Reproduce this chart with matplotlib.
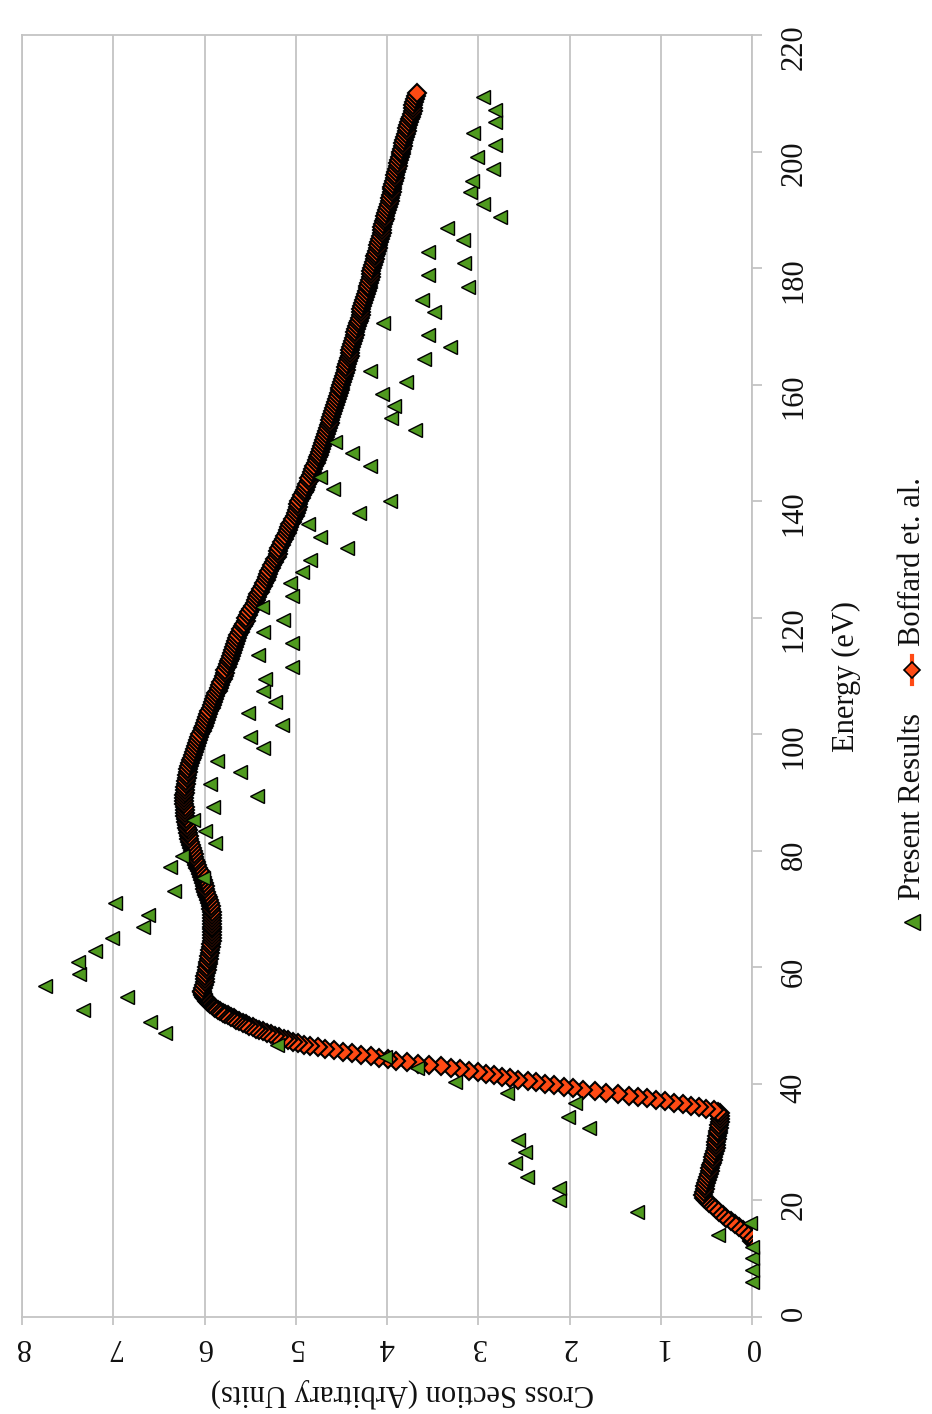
import numpy as np
import matplotlib
matplotlib.use("Agg")
import matplotlib.pyplot as plt
from matplotlib.lines import Line2D

# ---------------- data ----------------
# Present results: energy (eV) and cross section (arbitrary units)
present_energy = [
    6.0, 8.1, 10.1, 12.0, 14.1, 16.1, 18.0, 20.1, 22.1, 24.0,
    26.4, 28.3, 30.4, 32.4, 34.3, 36.7, 38.4, 40.3, 42.7, 44.6,
    46.7, 48.7, 50.6, 52.7, 54.9, 56.8, 58.9, 60.9, 62.8, 65.0,
    66.9, 69.0, 71.0, 73.1, 75.3, 77.2, 79.1, 81.3, 83.4, 85.3,
    87.5, 89.4, 91.5, 93.5, 95.4, 97.6, 99.5, 101.6, 103.6, 105.5,
    107.4, 109.5, 111.6, 113.6, 115.7, 117.6, 119.6, 121.8, 123.7, 126.0,
    127.9, 129.9, 132.0, 133.9, 136.1, 138.0, 140.0, 142.1, 144.2, 146.0,
    148.3, 150.2, 152.2, 154.3, 156.3, 158.4, 160.5, 162.4, 164.4, 166.5,
    168.5, 170.6, 172.5, 174.6, 176.8, 178.8, 180.9, 182.8, 184.8, 186.9,
    188.8, 191.0, 193.1, 194.9, 197.0, 199.1, 201.1, 203.2, 205.1, 207.2,
    209.4,
]
present_cs = [
    0.00, 0.00, 0.00, 0.00, 0.37, 0.02, 1.26, 2.12, 2.11, 2.47,
    2.60, 2.49, 2.56, 1.79, 2.02, 1.94, 2.68, 3.26, 3.67, 4.02,
    5.21, 6.43, 6.60, 7.33, 6.85, 7.75, 7.37, 7.39, 7.20, 7.01,
    6.67, 6.62, 6.98, 6.33, 6.02, 6.38, 6.25, 5.88, 6.00, 6.13,
    5.91, 5.42, 5.94, 5.61, 5.86, 5.36, 5.50, 5.15, 5.52, 5.23,
    5.36, 5.34, 5.04, 5.41, 5.04, 5.36, 5.14, 5.37, 5.04, 5.06,
    4.93, 4.84, 4.44, 4.73, 4.87, 4.31, 3.97, 4.59, 4.73, 4.19,
    4.38, 4.57, 3.69, 3.96, 3.92, 4.05, 3.79, 4.19, 3.59, 3.31,
    3.55, 4.04, 3.48, 3.62, 3.11, 3.55, 3.16, 3.55, 3.17, 3.34,
    2.76, 2.95, 3.09, 3.07, 2.84, 3.01, 2.82, 3.06, 2.82, 2.82,
    2.95,
]

# Boffard et al.: sampled on three energy grids
boffard_energy = np.concatenate([
    np.arange(13.0, 35.01, 0.5),     # threshold region
    np.arange(35.25, 56.01, 0.25),   # steep rise
    np.arange(56.5, 210.01, 0.5),    # plateau and fall-off
])
boffard_cs = [
    # 13.0 .. 35.0 eV
    0.00, 0.01, 0.03, 0.06, 0.10, 0.14, 0.19, 0.23, 0.28, 0.32,
    0.36, 0.40, 0.43, 0.47, 0.50, 0.53, 0.54, 0.53, 0.52, 0.51,
    0.50, 0.49, 0.48, 0.47, 0.46, 0.455, 0.45, 0.44, 0.43, 0.425,
    0.42, 0.41, 0.40, 0.395, 0.39, 0.385, 0.38, 0.375, 0.37, 0.365,
    0.36, 0.355, 0.35, 0.35, 0.35,
    # 35.25 .. 56.0 eV
    0.37, 0.42, 0.50, 0.58, 0.67, 0.76, 0.86, 0.95, 1.05, 1.15,
    1.25, 1.35, 1.47, 1.60, 1.72, 1.85, 1.96, 2.06, 2.17, 2.27,
    2.37, 2.46, 2.56, 2.65, 2.74, 2.83, 2.91, 3.00, 3.10, 3.20,
    3.30, 3.41, 3.54, 3.66, 3.78, 3.90, 3.99, 4.09, 4.18, 4.28,
    4.38, 4.48, 4.58, 4.68, 4.76, 4.84, 4.91, 4.97, 5.03, 5.08,
    5.13, 5.18, 5.23, 5.27, 5.32, 5.36, 5.40, 5.44, 5.47, 5.51,
    5.55, 5.58, 5.62, 5.65, 5.68, 5.71, 5.74, 5.77, 5.80, 5.83,
    5.85, 5.88, 5.90, 5.92, 5.94, 5.96, 5.97, 5.98, 6.00, 6.01,
    6.02, 6.02, 6.03, 6.03,
    # 56.5 .. 210.0 eV
    6.02, 6.01, 6.00, 6.00, 5.99, 5.98, 5.97, 5.97, 5.96, 5.96,
    5.95, 5.95, 5.94, 5.94, 5.93, 5.93, 5.92, 5.92, 5.92, 5.92,
    5.92, 5.92, 5.92, 5.92, 5.92, 5.92, 5.92, 5.93, 5.93, 5.94,
    5.95, 5.96, 5.97, 5.98, 5.99, 6.00, 6.01, 6.02, 6.03, 6.04,
    6.05, 6.07, 6.08, 6.09, 6.10, 6.11, 6.12, 6.13, 6.14, 6.15,
    6.16, 6.17, 6.17, 6.18, 6.18, 6.19, 6.19, 6.20, 6.20, 6.21,
    6.21, 6.21, 6.21, 6.22, 6.22, 6.22, 6.22, 6.21, 6.21, 6.21,
    6.20, 6.20, 6.19, 6.19, 6.18, 6.18, 6.17, 6.16, 6.15, 6.14,
    6.13, 6.12, 6.10, 6.09, 6.08, 6.07, 6.06, 6.05, 6.03, 6.02,
    6.01, 6.00, 5.98, 5.97, 5.96, 5.95, 5.93, 5.92, 5.91, 5.90,
    5.88, 5.87, 5.85, 5.84, 5.83, 5.82, 5.80, 5.79, 5.78, 5.77,
    5.75, 5.74, 5.73, 5.72, 5.71, 5.70, 5.69, 5.68, 5.67, 5.66,
    5.64, 5.63, 5.61, 5.60, 5.58, 5.57, 5.55, 5.54, 5.52, 5.51,
    5.49, 5.47, 5.45, 5.44, 5.42, 5.41, 5.39, 5.38, 5.36, 5.35,
    5.33, 5.32, 5.30, 5.29, 5.27, 5.26, 5.24, 5.23, 5.21, 5.20,
    5.19, 5.18, 5.16, 5.15, 5.13, 5.12, 5.10, 5.09, 5.07, 5.06,
    5.04, 5.03, 5.01, 5.00, 4.99, 4.98, 4.97, 4.96, 4.94, 4.93,
    4.91, 4.90, 4.89, 4.88, 4.86, 4.85, 4.83, 4.82, 4.81, 4.80,
    4.78, 4.77, 4.76, 4.75, 4.73, 4.72, 4.71, 4.70, 4.69, 4.68,
    4.67, 4.66, 4.65, 4.64, 4.63, 4.62, 4.61, 4.60, 4.59, 4.58,
    4.57, 4.56, 4.55, 4.54, 4.53, 4.52, 4.51, 4.50, 4.49, 4.48,
    4.47, 4.46, 4.45, 4.45, 4.44, 4.43, 4.42, 4.41, 4.40, 4.40,
    4.39, 4.38, 4.37, 4.36, 4.35, 4.35, 4.34, 4.33, 4.32, 4.31,
    4.30, 4.29, 4.28, 4.28, 4.27, 4.26, 4.25, 4.24, 4.23, 4.22,
    4.21, 4.21, 4.20, 4.19, 4.18, 4.18, 4.17, 4.16, 4.15, 4.14,
    4.13, 4.13, 4.12, 4.11, 4.10, 4.10, 4.09, 4.08, 4.07, 4.06,
    4.05, 4.05, 4.04, 4.03, 4.02, 4.02, 4.01, 4.00, 3.99, 3.98,
    3.97, 3.97, 3.96, 3.95, 3.94, 3.94, 3.93, 3.92, 3.91, 3.91,
    3.90, 3.89, 3.88, 3.88, 3.87, 3.86, 3.85, 3.85, 3.84, 3.83,
    3.82, 3.81, 3.80, 3.79, 3.78, 3.78, 3.77, 3.76, 3.75, 3.74,
    3.73, 3.72, 3.71, 3.71, 3.70, 3.69, 3.68, 3.67,
]

cs_ticks = list(range(0, 9))
energy_ticks = list(range(0, 221, 20))

# ---------------- styling ----------------
GRID = "#c4c4c4"
RED = "#ff4a14"
GREEN = "#4f9a1f"
TEXT = "#111111"
FS = 22

plt.rcParams["font.family"] = ["Liberation Serif", "DejaVu Serif"]

W, H, DPI = 932, 1414, 100
fig = plt.figure(figsize=(W / DPI, H / DPI), dpi=DPI)


def fx(px):
    return px / W


def fy(py):
    return 1 - py / H


# plot area in pixel coordinates
L, R, T, B = 22, 752, 35, 1317
ax = fig.add_axes([fx(L), fy(B), (R - L) / W, (B - T) / H])
ax.set_xlim(8, 0)
ax.set_ylim(0, 220)
ax.set_xticks(cs_ticks)
ax.set_yticks(energy_ticks)
ax.grid(axis="x", color=GRID, lw=1.3)
ax.set_axisbelow(True)
for s in ax.spines.values():
    s.set_color(GRID)
    s.set_linewidth(1.3)

ax.yaxis.tick_right()
ax.tick_params(axis="y", direction="out", length=7, width=1.3, color=GRID,
               labelrotation=90, pad=13, labelsize=FS, labelcolor=TEXT)
ax.tick_params(axis="x", direction="out", length=6, width=1.3, color=GRID,
               labelrotation=180, pad=5, labelsize=FS, labelcolor=TEXT)

ax.plot(boffard_cs, boffard_energy, color=RED, lw=1.5, marker="D", ms=9,
        mfc=RED, mec="black", mew=1.5, zorder=3)
ax.plot(present_cs, present_energy, ls="none", marker="<", ms=10.5,
        mfc=GREEN, mec="black", mew=1.0, zorder=4, clip_on=False)

# axis titles
fig.text(fx(846), fy(676), "Energy (eV)", rotation=90, ha="center",
         va="center", size=FS, color=TEXT)
fig.text(fx(402), fy(1393), "Cross Section (Arbitrary Units)", rotation=180,
         ha="center", va="center", size=FS, color=TEXT)

# legend, drawn along the right edge
lx = 912
fig.add_artist(Line2D([fx(lx)], [fy(922)], transform=fig.transFigure,
                      marker="<", ms=11, mfc=GREEN, mec="black", mew=1.0))
fig.text(fx(lx), fy(900), "Present Results", rotation=90,
         rotation_mode="anchor", ha="left", va="center", size=FS, color=TEXT)
fig.add_artist(Line2D([fx(lx), fx(lx)], [fy(684), fy(656)],
                      transform=fig.transFigure, color=RED, lw=3))
fig.add_artist(Line2D([fx(lx)], [fy(670)], transform=fig.transFigure,
                      marker="D", ms=8, mfc=RED, mec="black", mew=1.2))
fig.text(fx(lx), fy(646), "Boffard et. al.", rotation=90,
         rotation_mode="anchor", ha="left", va="center", size=FS, color=TEXT)

fig.savefig("out.png", dpi=DPI, facecolor="white")
